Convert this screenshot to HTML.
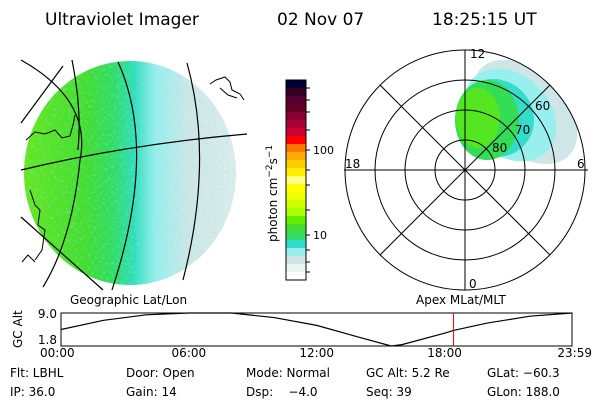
<!DOCTYPE html>
<html><head><meta charset="utf-8"><style>
html,body{margin:0;padding:0;background:#fff;}
svg{display:block;font-family:"DejaVu Sans","Liberation Sans",sans-serif;}
</style></head><body>
<svg id="s" width="600" height="400" viewBox="0 0 600 400">
<defs>
<linearGradient id="mapg" x1="25" y1="0" x2="235" y2="0" gradientUnits="userSpaceOnUse">
<stop offset="0" stop-color="#66e622"/><stop offset="0.3" stop-color="#44dd33"/><stop offset="0.42" stop-color="#33dd66"/>
<stop offset="0.52" stop-color="#33ddbb"/><stop offset="0.62" stop-color="#99eeee"/><stop offset="0.78" stop-color="#cfe6e6"/><stop offset="1" stop-color="#dcecec"/>
</linearGradient>
<clipPath id="polclip"><circle cx="465" cy="170" r="120"/></clipPath>
<clipPath id="polclip2"><rect x="455" y="40" width="140" height="140"/></clipPath>
<filter id="noise"><feTurbulence type="fractalNoise" baseFrequency="0.35" numOctaves="1" seed="3"/><feColorMatrix values="0 0 0 0 0.2  0 0 0 0 0.87  0 0 0 0 0.8  0 0 0 3 -1.6"/><feComposite in2="SourceGraphic" operator="in"/></filter>
</defs>
<text x="45" y="25" font-size="17">Ultraviolet Imager</text>
<text x="277" y="25" font-size="17">02 Nov 07</text>
<text x="432" y="25" font-size="17">18:25:15 UT</text>

<g>
<ellipse cx="130" cy="173" rx="106" ry="112" fill="url(#mapg)"/>
<ellipse cx="130" cy="173" rx="106" ry="112" fill="#fff" filter="url(#noise)" opacity="0.5"/>
<g fill="none" stroke="#000" stroke-width="1.2">
<path d="M21,60 Q92,100 80,160 Q72,240 43,287"/>
<path d="M72,60 Q82,110 78,150"/>
<path d="M118,62 Q158,150 112,290"/>
<path d="M187,63 Q214,160 183,280"/>
<path d="M21,170 Q130,144 247,134"/>
<path d="M21,123 L63,66"/>
<path d="M21,217 L103,290"/>
<path d="M210,84 L216,80 L225,77 L230,82 L232,90 L240,94 L244,100 M220,88 L228,95 L237,98" stroke-width="1"/>
<path d="M26,140 L35,132 L45,134 L55,130 L62,138 L70,136 L73,125 L75,115 M30,190 L35,205 L40,210 L38,225 L45,230 L42,250 L35,260 M22,262 L28,255 L35,262" stroke-width="1"/>
</g>
</g>

<g id="cbar"></g>
<text x="0" y="0" font-size="12" transform="translate(277,242) rotate(-90)">photon cm<tspan dy="-5" font-size="9">−2</tspan><tspan dy="5">s</tspan><tspan dy="-5" font-size="9">−1</tspan></text>
<text x="313" y="154" font-size="11">100</text>
<text x="313" y="239" font-size="11">10</text>

<g>
<g clip-path="url(#polclip)"><g clip-path="url(#polclip2)">
<ellipse cx="525" cy="112" rx="62" ry="40" fill="#cfe6e6" transform="rotate(45 525 112)"/>
<ellipse cx="510" cy="115" rx="52" ry="40" fill="#99eeee" transform="rotate(45 510 115)"/>
<ellipse cx="495" cy="118" rx="40" ry="38" fill="#33ddcc" transform="rotate(45 495 118)"/>
<ellipse cx="487" cy="120" rx="32" ry="40" fill="#33dd55"/>
<ellipse cx="478" cy="118" rx="22" ry="30" fill="#55e622"/>
</g></g>
<g fill="none" stroke="#000" stroke-width="1">
<circle cx="465" cy="170" r="30"/><circle cx="465" cy="170" r="60"/><circle cx="465" cy="170" r="90"/><circle cx="465" cy="170" r="120"/>
<line x1="465" y1="50" x2="465" y2="290"/><line x1="344" y1="170" x2="588" y2="170"/>
<line x1="380" y1="85" x2="550" y2="255"/><line x1="550" y1="85" x2="380" y2="255"/>
</g>
<g font-size="12">
<text x="470" y="58">12</text><text x="345" y="168">18</text><text x="577" y="168">6</text><text x="469" y="288">0</text>
<text x="535" y="110">60</text><text x="515" y="134">70</text><text x="492" y="152">80</text>
</g>
</g>

<text x="70" y="304" font-size="12">Geographic Lat/Lon</text>
<text x="416" y="304" font-size="12">Apex MLat/MLT</text>
<text font-size="12" transform="translate(22,348) rotate(-90)">GC Alt</text>
<text x="57" y="318" font-size="12" text-anchor="end">9.0</text>
<text x="57" y="344" font-size="12" text-anchor="end">1.8</text>
<g id="alt"></g>

<g font-size="12">
<text x="10" y="377">Flt: LBHL</text><text x="126" y="377">Door: Open</text><text x="246" y="377">Mode: Normal</text><text x="366" y="377">GC Alt: 5.2 Re</text><text x="487" y="377">GLat: −60.3</text>
<text x="10" y="396">IP: 36.0</text><text x="126" y="396">Gain: 14</text><text x="246" y="396">Dsp:&#160;&#160;&#160; −4.0</text><text x="366" y="396">Seq: 39</text><text x="487" y="396">GLon: 188.0</text>
</g>
</svg>
<script>
const cbColors=["#000033","#330022","#550033","#660022","#880033","#aa0033","#cc0033","#ff0000","#ff7700","#ffaa00","#ffcc00","#ffee00","#ffff88","#ffff00","#eeff00","#ccff00","#aaff00","#66ee00","#44dd33","#33dd66","#33ddcc","#99eeee","#d0e4e4","#e8f4f0","#ffffff"];
const altHours=[0,2,4,6,7,8,10,12,14,15.5,16,18,18.42,20,22,23.98];
const altValues=[5.4,7.4,8.6,9.0,9.0,9.0,8.0,6.3,3.7,1.8,2.1,4.6,5.2,6.8,8.3,9.0];
const timeTicks=["00:00","06:00","12:00","18:00","23:59"];
const tickHours=[0,6,12,18,23.98];
const currentHour=18.42;
const NS="http://www.w3.org/2000/svg";
function mk(t,a,p){const e=document.createElementNS(NS,t);for(const k in a)e.setAttribute(k,a[k]);p.appendChild(e);return e;}
const cb=document.getElementById('cbar');
const cbTop=80,cbH=200,bh=cbH/cbColors.length;
cbColors.forEach((c,i)=>{const r=mk('rect',{x:286,y:cbTop+i*bh,width:20,height:bh+0.5,fill:c},cb);

});
mk('rect',{x:286,y:cbTop,width:20,height:cbH,fill:'none',stroke:'#000'},cb);
[88,100,112,130,150,170,185,210,235,250,262,272].forEach(y=>mk('line',{x1:306,y1:y,x2:310,y2:y,stroke:'#000'},cb));
const g=document.getElementById('alt');
const X0=61,X1=572,Y0=313,Y1=346;
const xs=h=>X0+(h/23.98)*(X1-X0);
const ys=v=>Y1-(v-1.8)/(9.0-1.8)*(Y1-Y0);
mk('rect',{x:X0,y:Y0,width:X1-X0,height:Y1-Y0,fill:'none',stroke:'#000'},g);
const line=mk('polyline',{points:altHours.map((h,i)=>xs(h)+','+ys(altValues[i])).join(' '),fill:'none',stroke:'#000','stroke-width':1.2},g);


const red=mk('line',{x1:xs(currentHour),y1:Y0,x2:xs(currentHour),y2:Y1,stroke:'#ff0000'},g);


timeTicks.forEach((t,i)=>{const tx=mk('text',{x:xs(tickHours[i]),y:357,'font-size':12,'text-anchor':i==0?'start':(i==4?'end':'middle')},g);
if(i==0)tx.setAttribute('x',40);if(i==4)tx.setAttribute('x',592);
tx.textContent=t;

});
</script>
</body></html>
